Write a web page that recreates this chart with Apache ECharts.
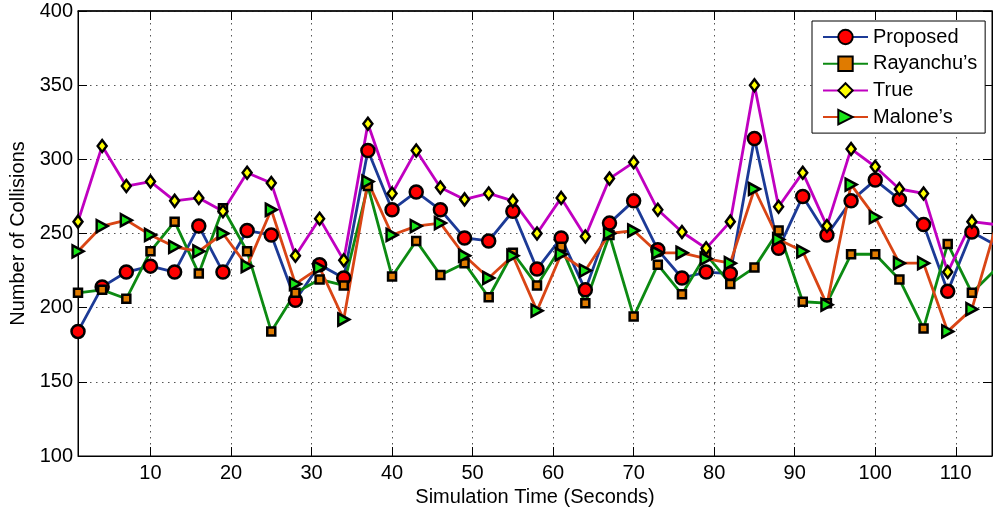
<!DOCTYPE html>
<html>
<head>
<meta charset="utf-8">
<script src="https://cdn.jsdelivr.net/npm/echarts@6/dist/echarts.min.js"></script>
<style>html,body{margin:0;padding:0;background:#fff}#c{width:993px;height:513px}</style>
</head>
<body>
<div id="c"></div>
<script>
const xValues = [1,4,7,10,13,16,19,22,25,28,31,34,37,40,43,46,49,52,55,58,61,64,67,70,73,76,79,82,85,88,91,94,97,100,103,106,109,112,115];
const proposed = [184,214,224,228,224,255,224,252,249,205,229,220,306,266,278,266,247,245,265,226,247,212,257,272,239,220,224,223,314,240,275,249,272,286,273,256,211,251,242];
const rayanchu = [210,212,206,238,258,223,267,238,184,210,219,215,282,221,245,222,230,207,237,215,241,203,249,194,229,209,236,216,227,252,204,203,236,236,219,186,243,210,226];
const trueVals = [258,309,282,285,272,274,265,291,284,235,260,232,324,277,306,281,273,277,272,250,274,248,287,298,266,251,240,258,350,268,291,255,307,295,280,277,224,258,256];
const malone = [238,255,259,249,241,238,250,228,266,216,227,192,285,249,255,257,235,220,235,198,236,225,250,252,237,237,233,230,280,246,238,202,283,261,230,230,184,199,255];
const xTicks = [10,20,30,40,50,60,70,80,90,100,110];
const seriesNames = ['Proposed','Rayanchu\u2019s','True','Malone\u2019s'];

const FONT = 'Liberation Sans, Arial, Helvetica, sans-serif';
const chart = echarts.init(document.getElementById('c'), null, {renderer:'canvas'});

function mk(name, vals, lineColor, symbol, size, fill, bw) {
  return {
    type: 'line', name: name,
    data: xValues.map((x, i) => [x, vals[i]]),
    symbol: symbol, symbolSize: size, showSymbol: true,
    clip: true,
    lineStyle: {color: lineColor, width: 2.8},
    itemStyle: {color: fill, borderColor: '#000', borderWidth: bw},
    emphasis: {disabled: true}
  };
}

const gridLine = {show: true, lineStyle: {color: '#555', width: 1, type: [1.5, 4.5]}};

chart.setOption({
  animation: false,
  backgroundColor: '#fff',
  textStyle: {fontFamily: FONT},
  grid: {left: 77, right: 1, top: 11, bottom: 57, show: true, borderColor: '#000', borderWidth: 1, backgroundColor: 'transparent'},
  legend: {
    left: 812, top: 21,
    orient: 'vertical',
    data: seriesNames,
    backgroundColor: '#fff', borderColor: '#000', borderWidth: 1,
    padding: [6, 8, 6, 10],
    itemWidth: 45, itemHeight: 18, itemGap: 6.7,
    textStyle: {fontSize: 20, color: '#000', fontFamily: FONT},
    selectedMode: false
  },
  xAxis: [{
    type: 'value', min: 1, max: 114.5,
    name: 'Simulation Time (Seconds)', nameLocation: 'middle', nameGap: 29,
    nameTextStyle: {fontSize: 20, color: '#000', fontFamily: FONT},
    axisLine: {show: true, lineStyle: {color: '#000', width: 1}},
    axisTick: {show: true, inside: true, length: 9, customValues: xTicks, lineStyle: {color: '#000'}},
    axisLabel: {show: true, customValues: xTicks, fontSize: 20, color: '#000', margin: 7, fontFamily: FONT},
    splitLine: gridLine
  }, {
    type: 'value', min: 1, max: 114.5, position: 'top',
    axisLine: {show: true, lineStyle: {color: '#000', width: 1.5}},
    axisTick: {show: true, inside: true, length: 9, customValues: xTicks, lineStyle: {color: '#000'}},
    axisLabel: {show: false},
    splitLine: {show: false}
  }],
  yAxis: [{
    type: 'value', min: 100, max: 400, interval: 50,
    name: 'Number of Collisions', nameLocation: 'middle', nameGap: 50,
    nameTextStyle: {fontSize: 20, color: '#000', fontFamily: FONT},
    axisLine: {show: true, lineStyle: {color: '#000', width: 1}},
    axisTick: {show: true, inside: true, length: 9, lineStyle: {color: '#000'}},
    axisLabel: {fontSize: 20, color: '#000', margin: 5, fontFamily: FONT},
    splitLine: gridLine
  }, {
    type: 'value', min: 100, max: 400, interval: 50, position: 'right',
    axisLine: {show: true, lineStyle: {color: '#000', width: 1}},
    axisTick: {show: true, inside: true, length: 9, lineStyle: {color: '#000'}},
    axisLabel: {show: false},
    splitLine: {show: false}
  }],
  series: [
    mk(seriesNames[0], proposed, '#1c3a96', 'circle', 13, '#ff0000', 2.5),
    mk(seriesNames[1], rayanchu, '#0c8a12', 'rect', 8, '#e07b00', 2.5),
    mk(seriesNames[2], trueVals, '#c000c0', 'diamond', [9, 12], '#ffff00', 2.5),
    mk(seriesNames[3], malone, '#d94515', 'path://M0,0L10,6L0,12Z', [11, 12], '#19e619', 2.5)
  ]
});
</script>
</body>
</html>
